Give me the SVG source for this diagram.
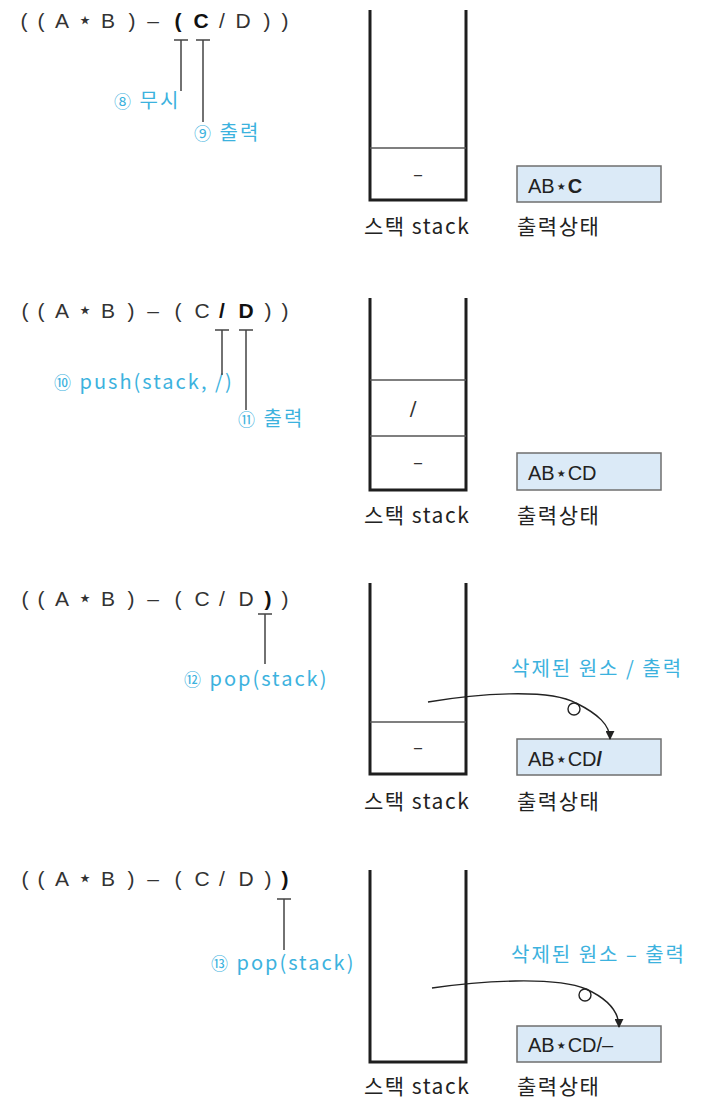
<svg xmlns="http://www.w3.org/2000/svg" width="703" height="1099" viewBox="0 0 703 1099">
<style>
.expr{font-family:"Liberation Sans","DejaVu Sans",sans-serif;font-size:21px;fill:#333;text-anchor:middle}
.b{font-weight:bold;fill:#111}
.st{font-family:"DejaVu Sans",sans-serif;font-size:24px}
.lbl{font-family:"Noto Sans CJK KR","Noto Sans",sans-serif;font-size:21px;fill:#222;letter-spacing:1.5px}
.cy{font-family:"Noto Sans CJK KR","Noto Sans",sans-serif;font-size:20px;fill:#3cb2de;letter-spacing:2px}
.num{font-size:17px}
.out{font-family:"Liberation Sans","Noto Sans CJK KR",sans-serif;font-size:20px;fill:#222}
.wall{fill:none;stroke:#1e1e1e;stroke-width:3}
.div{stroke:#555;stroke-width:1.5}
.box{fill:#dbeaf7;stroke:#6f6f6f;stroke-width:1.5}
.tick{stroke:#444;stroke-width:1.5;fill:none}
.cur{stroke:#222;stroke-width:1.4;fill:none}
.cell{font-family:"DejaVu Sans",sans-serif;font-size:20px;fill:#333;text-anchor:middle}
</style>
<defs>
<marker id="ah" viewBox="0 0 10 10" refX="9" refY="5" markerWidth="9" markerHeight="9" orient="auto" markerUnits="userSpaceOnUse">
<path d="M0,0 L10,5 L0,10 z" fill="#222"/>
</marker>
</defs>

<g id="panel1">
<text class="expr" y="28" x="24 41 62">((A<tspan class="st" x="85">⋆</tspan><tspan x="108 132 153">B)–</tspan></text>
<text class="expr" y="28"><tspan class="b" x="178 201">(C</tspan><tspan x="222 243 267 285">/D))</tspan></text>
<text class="cy" x="114" y="108"><tspan class="num">⑧</tspan> 무시</text>
<text class="cy" x="194" y="140"><tspan class="num">⑨</tspan> 출력</text>
<path class="wall" d="M370,10 V200 H466 V10"/>
<line class="div" x1="370" y1="148" x2="466" y2="148"/>
<text class="cell" x="418" y="181">–</text>
<rect class="box" x="517" y="166" width="144" height="36"/>
<text class="out" x="528" y="193">AB⋆<tspan font-weight="bold">C</tspan></text>
<text class="lbl" x="364" y="234">스택 stack</text>
<text class="lbl" x="517" y="234">출력상태</text>
</g>

<g id="panel2">
<text class="expr" y="318" x="25 41 62">((A<tspan class="st" x="85">⋆</tspan><tspan x="108 131 153 178 202">B)–(C</tspan></text>
<text class="expr" y="318"><tspan class="b" x="222 246">/D</tspan><tspan x="268 285">))</tspan></text>
<text class="cy" x="54" y="389"><tspan class="num">⑩</tspan> push(stack, /)</text>
<text class="cy" x="238" y="426"><tspan class="num">⑪</tspan> 출력</text>
<path class="wall" d="M370,298 V490 H466 V298"/>
<line class="div" x1="370" y1="380" x2="466" y2="380"/>
<line class="div" x1="370" y1="436" x2="466" y2="436"/>
<text class="cell" x="413" y="415">/</text>
<text class="cell" x="418" y="469">–</text>
<rect class="box" x="517" y="453" width="144" height="37"/>
<text class="out" x="528" y="480">AB⋆CD</text>
<text class="lbl" x="364" y="523">스택 stack</text>
<text class="lbl" x="517" y="523">출력상태</text>
</g>

<g id="panel3">
<text class="expr" y="606" x="25 41 62">((A<tspan class="st" x="85">⋆</tspan><tspan x="108 131 153 178 202 222 246">B)–(C/D</tspan></text>
<text class="expr" y="606"><tspan class="b" x="268">)</tspan><tspan x="285">)</tspan></text>
<text class="cy" x="184" y="686"><tspan class="num">⑫</tspan> pop(stack)</text>
<text class="cy" x="511" y="676" letter-spacing="2.5">삭제된 원소 / 출력</text>
<path class="wall" d="M370,583 V774 H466 V583"/>
<line class="div" x1="370" y1="722" x2="466" y2="722"/>
<text class="cell" x="418" y="754">–</text>
<rect class="box" x="517" y="739" width="144" height="36"/>
<text class="out" x="528" y="766">AB⋆CD<tspan font-weight="bold">/</tspan></text>
<text class="lbl" x="364" y="809">스택 stack</text>
<text class="lbl" x="517" y="809">출력상태</text>
</g>

<g id="panel4">
<text class="expr" y="886" x="25 41 62">((A<tspan class="st" x="85">⋆</tspan><tspan x="108 131 153 178 202 222 246 268">B)–(C/D)</tspan></text>
<text class="expr" y="886"><tspan class="b" x="285">)</tspan></text>
<text class="cy" x="211" y="970"><tspan class="num">⑬</tspan> pop(stack)</text>
<text class="cy" x="511" y="962" letter-spacing="2.5">삭제된 원소 – 출력</text>
<path class="wall" d="M370,870 V1062 H466 V870"/>
<rect class="box" x="517" y="1026" width="144" height="36"/>
<text class="out" x="528" y="1052">AB⋆CD/–</text>
<text class="lbl" x="364" y="1094">스택 stack</text>
<text class="lbl" x="517" y="1094">출력상태</text>
</g>

<g id="connectors">
<path class="tick" d="M174,40 H188 M181,40 V91"/>
<path class="tick" d="M196,40 H210 M203,40 V122"/>
<path class="tick" d="M215,330 H229 M222,330 V375"/>
<path class="tick" d="M239,330 H253 M246,330 V410"/>
<path class="tick" d="M258,614 H272 M265,614 V664"/>
<path class="tick" d="M277,899 H291 M284,899 V950"/>
<path class="cur" d="M428,702 C475,694 548,688 576,703 C598,714 610,725 610,739" marker-end="url(#ah)"/>
<circle class="cur" cx="574" cy="709" r="6"/>
<path class="cur" d="M432,988 C480,981 555,976 586,989 C608,999 619,1012 619,1027" marker-end="url(#ah)"/>
<circle class="cur" cx="585" cy="995" r="6"/>
</g>
</svg>
